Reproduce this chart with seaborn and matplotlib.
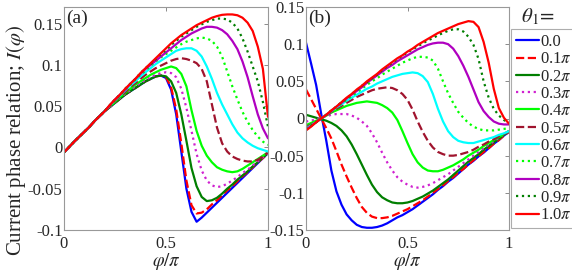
import numpy as np
import pandas as pd
import matplotlib
matplotlib.use('Agg')
import matplotlib.pyplot as plt
import seaborn as sns

# ── Data ──────────────────────────────────────────────────────────
# phase grid phi/pi, step 0.025
phi = np.round(np.arange(41) * 0.025, 3)

theta_labels = ['0.0', r'0.1$\pi$', r'0.2$\pi$', r'0.3$\pi$', r'0.4$\pi$', r'0.5$\pi$',
                r'0.6$\pi$', r'0.7$\pi$', r'0.8$\pi$', r'0.9$\pi$', r'1.0$\pi$']

# panel (a)
a_00 = [-0.006, 0.0005, 0.007, 0.013, 0.019, 0.025, 0.032, 0.038, 0.044,
        0.049, 0.054, 0.059, 0.064, 0.068, 0.072, 0.076, 0.080, 0.083, 0.086, 0.087,
        0.084, 0.070, 0.040, -0.005, -0.050, -0.078, -0.090, -0.085, -0.079, -0.073, -0.067,
        -0.061, -0.055, -0.049, -0.043, -0.037, -0.031, -0.025, -0.019, -0.013, -0.007]
a_01 = [-0.006, 0.0005, 0.007, 0.013, 0.019, 0.025, 0.032, 0.038, 0.044,
        0.049, 0.054, 0.059, 0.064, 0.068, 0.072, 0.076, 0.080, 0.083, 0.086, 0.087,
        0.085, 0.073, 0.046, 0.005, -0.040, -0.070, -0.080, -0.079, -0.075, -0.069, -0.064,
        -0.058, -0.052, -0.047, -0.041, -0.035, -0.030, -0.024, -0.018, -0.013, -0.007]
a_02 = [-0.006, 0.0005, 0.007, 0.013, 0.019, 0.025, 0.032, 0.038, 0.044,
        0.049, 0.054, 0.059, 0.064, 0.068, 0.072, 0.076, 0.080, 0.083, 0.086,
        0.087, 0.086, 0.080, 0.066, 0.040, 0.008, -0.025, -0.047, -0.060, -0.065, -0.064,
        -0.061, -0.056, -0.050, -0.045, -0.039, -0.034, -0.029, -0.023, -0.018, -0.012, -0.007]
a_03 = [-0.006, 0.0005, 0.007, 0.013, 0.019, 0.025, 0.032, 0.038, 0.044,
        0.049, 0.055, 0.060, 0.065, 0.069, 0.074, 0.078, 0.082, 0.085, 0.088, 0.090,
        0.091, 0.090, 0.085, 0.071, 0.048, 0.020, -0.008, -0.028, -0.040, -0.046, -0.048,
        -0.047, -0.044, -0.040, -0.036, -0.031, -0.027, -0.022, -0.017, -0.012, -0.007]
a_04 = [-0.006, 0.0005, 0.007, 0.013, 0.019, 0.025, 0.032, 0.038, 0.044,
        0.050, 0.055, 0.061, 0.066, 0.071, 0.076, 0.080, 0.084, 0.088, 0.091, 0.094,
        0.096, 0.098, 0.096, 0.089, 0.074, 0.045, 0.020, 0.002, -0.010, -0.018, -0.024,
        -0.027, -0.029, -0.030, -0.029, -0.026, -0.022, -0.018, -0.014, -0.010, -0.006]
a_05 = [-0.006, 0.0005, 0.007, 0.013, 0.019, 0.025, 0.032, 0.038, 0.044,
        0.050, 0.056, 0.062, 0.067, 0.073, 0.078, 0.083, 0.088, 0.092, 0.096, 0.099,
        0.102, 0.105, 0.107, 0.108, 0.107, 0.105, 0.102, 0.095, 0.080, 0.052, 0.024,
        0.005, -0.005, -0.011, -0.014, -0.016, -0.017, -0.017, -0.015, -0.011, -0.006]
a_06 = [-0.006, 0.0005, 0.007, 0.013, 0.019, 0.025, 0.032, 0.038, 0.044,
        0.051, 0.057, 0.063, 0.069, 0.075, 0.080, 0.086, 0.091, 0.096, 0.101, 0.105,
        0.109, 0.113, 0.117, 0.119, 0.120, 0.120, 0.117, 0.110, 0.098, 0.083, 0.066,
        0.052, 0.040, 0.028, 0.018, 0.011, 0.006, 0.002, -0.001, -0.003, -0.005]
a_07 = [-0.006, 0.0005, 0.007, 0.013, 0.019, 0.025, 0.032, 0.038, 0.044,
        0.051, 0.057, 0.064, 0.070, 0.076, 0.082, 0.088, 0.093, 0.099, 0.104, 0.109,
        0.113, 0.117, 0.121, 0.125, 0.128, 0.130, 0.132, 0.133, 0.132, 0.129, 0.122,
        0.110, 0.092, 0.074, 0.058, 0.043, 0.031, 0.021, 0.013, 0.007, 0.003]
a_08 = [-0.006, 0.0005, 0.007, 0.013, 0.019, 0.025, 0.032, 0.038, 0.044,
        0.051, 0.058, 0.064, 0.070, 0.077, 0.083, 0.089, 0.095, 0.100, 0.105, 0.110,
        0.115, 0.120, 0.125, 0.130, 0.134, 0.138, 0.141, 0.144, 0.146, 0.146, 0.145,
        0.142, 0.137, 0.129, 0.119, 0.104, 0.085, 0.062, 0.040, 0.023, 0.011]
a_09 = [-0.006, 0.0005, 0.007, 0.013, 0.019, 0.025, 0.032, 0.038, 0.044,
        0.051, 0.058, 0.064, 0.071, 0.077, 0.083, 0.090, 0.096, 0.101, 0.107, 0.113,
        0.118, 0.124, 0.129, 0.134, 0.138, 0.142, 0.146, 0.149, 0.152, 0.154, 0.156,
        0.156, 0.155, 0.151, 0.144, 0.132, 0.116, 0.098, 0.080, 0.055, 0.025]
a_10 = [-0.006, 0.0005, 0.007, 0.013, 0.019, 0.025, 0.032, 0.038, 0.044,
        0.0515, 0.058, 0.064, 0.071, 0.077, 0.083, 0.090, 0.096, 0.102, 0.108, 0.114,
        0.120, 0.126, 0.131, 0.136, 0.140, 0.144, 0.148, 0.151, 0.154, 0.157, 0.159,
        0.1605, 0.161, 0.161, 0.160, 0.157, 0.151, 0.141, 0.122, 0.095, 0.037]

# panel (b)
b_00 = [0.102, 0.074, 0.045, 0.006, -0.030, -0.070, -0.098, -0.116, -0.129, -0.137,
        -0.143, -0.146, -0.147, -0.147, -0.146, -0.144, -0.141, -0.137, -0.133, -0.130,
        -0.126, -0.122, -0.117, -0.112, -0.107, -0.102, -0.096, -0.091, -0.085, -0.080,
        -0.074, -0.068, -0.062, -0.057, -0.051, -0.046, -0.040, -0.034, -0.029, -0.023, -0.018]
b_01 = [0.039, 0.026, 0.013, 0.000, -0.013, -0.027, -0.044, -0.062, -0.078, -0.093,
        -0.107, -0.119, -0.127, -0.132, -0.134, -0.134, -0.133, -0.131, -0.128, -0.125,
        -0.122, -0.118, -0.114, -0.110, -0.105, -0.100, -0.095, -0.090, -0.084, -0.079,
        -0.073, -0.068, -0.062, -0.056, -0.051, -0.045, -0.040, -0.034, -0.029, -0.023, -0.018]
b_02 = [0.005, 0.003, 0.001, -0.001, -0.003, -0.006, -0.010, -0.016, -0.024, -0.035,
        -0.048, -0.062, -0.076, -0.089, -0.099, -0.106, -0.110, -0.113, -0.114, -0.114,
        -0.113, -0.111, -0.108, -0.105, -0.101, -0.097, -0.092, -0.087, -0.082, -0.076,
        -0.070, -0.064, -0.058, -0.053, -0.048, -0.042, -0.037, -0.032, -0.027, -0.022, -0.017]
b_03 = [-0.004, -0.003, -0.001, 0.001, 0.003, 0.005, 0.006, 0.006, 0.006, 0.004,
        0.001, -0.004, -0.010, -0.020, -0.032, -0.046, -0.059, -0.070, -0.079, -0.085,
        -0.089, -0.092, -0.093, -0.092, -0.090, -0.087, -0.083, -0.079, -0.075, -0.070,
        -0.065, -0.060, -0.055, -0.050, -0.045, -0.040, -0.035, -0.031, -0.026, -0.021, -0.017]
b_04 = [-0.009, -0.006, -0.003, 0.000, 0.004, 0.008, 0.011, 0.014, 0.017, 0.019,
        0.021, 0.022, 0.023, 0.022, 0.021, 0.018, 0.014, 0.008, -0.002, -0.017,
        -0.033, -0.048, -0.059, -0.066, -0.070, -0.071, -0.071, -0.069, -0.066, -0.063,
        -0.059, -0.055, -0.050, -0.046, -0.042, -0.037, -0.033, -0.029, -0.025, -0.021, -0.017]
b_05 = [-0.012, -0.008, -0.004, 0.000, 0.004, 0.009, 0.013, 0.017, 0.021, 0.025,
        0.029, 0.032, 0.035, 0.038, 0.040, 0.041, 0.042, 0.041, 0.038, 0.033,
        0.025, 0.012, -0.004, -0.018, -0.030, -0.039, -0.045, -0.048, -0.050, -0.050,
        -0.049, -0.047, -0.045, -0.042, -0.038, -0.035, -0.031, -0.028, -0.024, -0.021, -0.017]
b_06 = [-0.014, -0.009, -0.005, 0.000, 0.005, 0.010, 0.015, 0.019, 0.024, 0.028,
        0.032, 0.036, 0.040, 0.043, 0.047, 0.050, 0.053, 0.056, 0.058, 0.060,
        0.061, 0.062, 0.061, 0.057, 0.049, 0.033, 0.013, -0.004, -0.017, -0.025,
        -0.030, -0.032, -0.033, -0.033, -0.031, -0.029, -0.027, -0.025, -0.022, -0.020, -0.017]
b_07 = [-0.014, -0.009, -0.004, 0.000, 0.005, 0.010, 0.015, 0.020, 0.025, 0.030,
        0.035, 0.040, 0.045, 0.050, 0.054, 0.059, 0.063, 0.067, 0.071, 0.075,
        0.078, 0.081, 0.083, 0.083, 0.082, 0.078, 0.067, 0.050, 0.034, 0.021,
        0.009, 0.001, -0.006, -0.011, -0.014, -0.016, -0.016, -0.016, -0.015, -0.014, -0.013]
b_08 = [-0.015, -0.010, -0.005, 0.000, 0.005, 0.010, 0.016, 0.021, 0.027, 0.032,
        0.037, 0.042, 0.048, 0.053, 0.058, 0.063, 0.068, 0.072, 0.077, 0.081,
        0.085, 0.089, 0.093, 0.096, 0.099, 0.101, 0.102, 0.102, 0.100, 0.094,
        0.084, 0.071, 0.056, 0.039, 0.022, 0.010, 0.002, -0.004, -0.007, -0.008, -0.008]
b_09 = [-0.015, -0.010, -0.005, 0.000, 0.005, 0.011, 0.016, 0.022, 0.027, 0.033,
        0.038, 0.044, 0.049, 0.054, 0.059, 0.065, 0.070, 0.075, 0.080, 0.084,
        0.089, 0.093, 0.097, 0.101, 0.105, 0.108, 0.112, 0.115, 0.118, 0.120,
        0.120, 0.117, 0.110, 0.099, 0.080, 0.050, 0.028, 0.013, 0.004, -0.002, -0.006]
b_10 = [-0.016, -0.011, -0.005, 0.000, 0.005, 0.011, 0.016, 0.022, 0.028, 0.033,
        0.039, 0.044, 0.050, 0.055, 0.060, 0.066, 0.071, 0.076, 0.081, 0.085,
        0.090, 0.094, 0.099, 0.103, 0.107, 0.111, 0.115, 0.118, 0.121, 0.124,
        0.127, 0.129, 0.131, 0.130, 0.123, 0.103, 0.075, 0.040, 0.014, 0.001, -0.007]

xticks = [0, 0.5, 1]
xtick_labels = ['0', '0.5', '1']
a_yticks = [-0.1, -0.05, 0, 0.05, 0.1, 0.15]
a_ytick_labels = ['-0.1', '-0.05', '0', '0.05', '0.1', '0.15']
b_yticks = [-0.15, -0.1, -0.05, 0, 0.05, 0.1, 0.15]
b_ytick_labels = ['-0.15', '-0.1', '-0.05', '0', '0.05', '0.1', '0.15']

curves_a = [a_00, a_01, a_02, a_03, a_04, a_05, a_06, a_07, a_08, a_09, a_10]
curves_b = [b_00, b_01, b_02, b_03, b_04, b_05, b_06, b_07, b_08, b_09, b_10]

# ── Style ─────────────────────────────────────────────────────────
colors = ['#0000ff', '#ff0000', '#007f00', '#d020d0', '#00ff00', '#a0142e',
          '#00ffff', '#00ff00', '#b000c0', '#007f00', '#ff0000']
styles = ['-', '--', '-', ':', '-', '--', '-', ':', '-', ':', '-']

sns.set_style('white')
plt.rcParams['font.family'] = ['Liberation Serif', 'DejaVu Serif']
plt.rcParams['mathtext.fontset'] = 'stix'
plt.rcParams['axes.unicode_minus'] = False

fig = plt.figure(figsize=(5.72, 2.73), dpi=100)
ax_a = fig.add_axes([64 / 572, 43 / 273, 204 / 572, 223 / 273])
ax_b = fig.add_axes([306 / 572, 43 / 273, 203 / 572, 223 / 273])


def draw(ax, curves, ylim, yticks, ylabels, tag):
    for vals, c, ls, lab in zip(curves, colors, styles, theta_labels):
        df = pd.DataFrame({'phi': phi, 'I': vals})
        sns.lineplot(data=df, x='phi', y='I', ax=ax, color=c, linestyle=ls,
                     lw=1.6, legend=False, label=lab)
    ax.set_xlim(0, 1)
    ax.set_ylim(*ylim)
    ax.set_xticks(xticks)
    ax.set_xticklabels(xtick_labels)
    ax.set_yticks(yticks)
    ax.set_yticklabels(ylabels)
    ax.tick_params(direction='in', length=3, width=0.6, color='#777777',
                   labelsize=12, top=True, right=True, pad=1)
    ax.tick_params(axis='x', pad=4)
    for sp in ax.spines.values():
        sp.set_color('#999999')
        sp.set_linewidth(0.8)
    ax.set_xlabel(r'$\varphi/\pi$', fontsize=13.5)
    ax.xaxis.label.set_va('center')
    ax.xaxis.set_label_coords(0.5, -0.14)
    ax.set_ylabel('')
    ax.text(0.012, 0.99, tag, transform=ax.transAxes, ha='left', va='top', fontsize=14)


draw(ax_a, curves_a, (-0.1, 0.17), a_yticks, a_ytick_labels, '(a)')
draw(ax_b, curves_b, (-0.15, 0.15), b_yticks, b_ytick_labels, '(b)')
ax_a.set_ylabel(r'Current phase relation; $I(\varphi)$', fontsize=15)
ax_a.yaxis.set_label_coords(-0.176, 0.40)

leg = fig.legend(handles=ax_b.lines, labels=theta_labels, loc='upper left',
                 bbox_to_anchor=(511 / 572, 1 - 29 / 273), fontsize=12,
                 frameon=True, fancybox=False, edgecolor='#999999',
                 handlelength=1.35, handletextpad=0.1, labelspacing=0.08,
                 borderpad=0.3, borderaxespad=0)
leg.get_frame().set_linewidth(0.8)
fig.text(538 / 572, 1 - 17 / 273, r'$\theta_1\!=$', ha='center', va='center', fontsize=15)

fig.savefig('out.png', dpi=100)
